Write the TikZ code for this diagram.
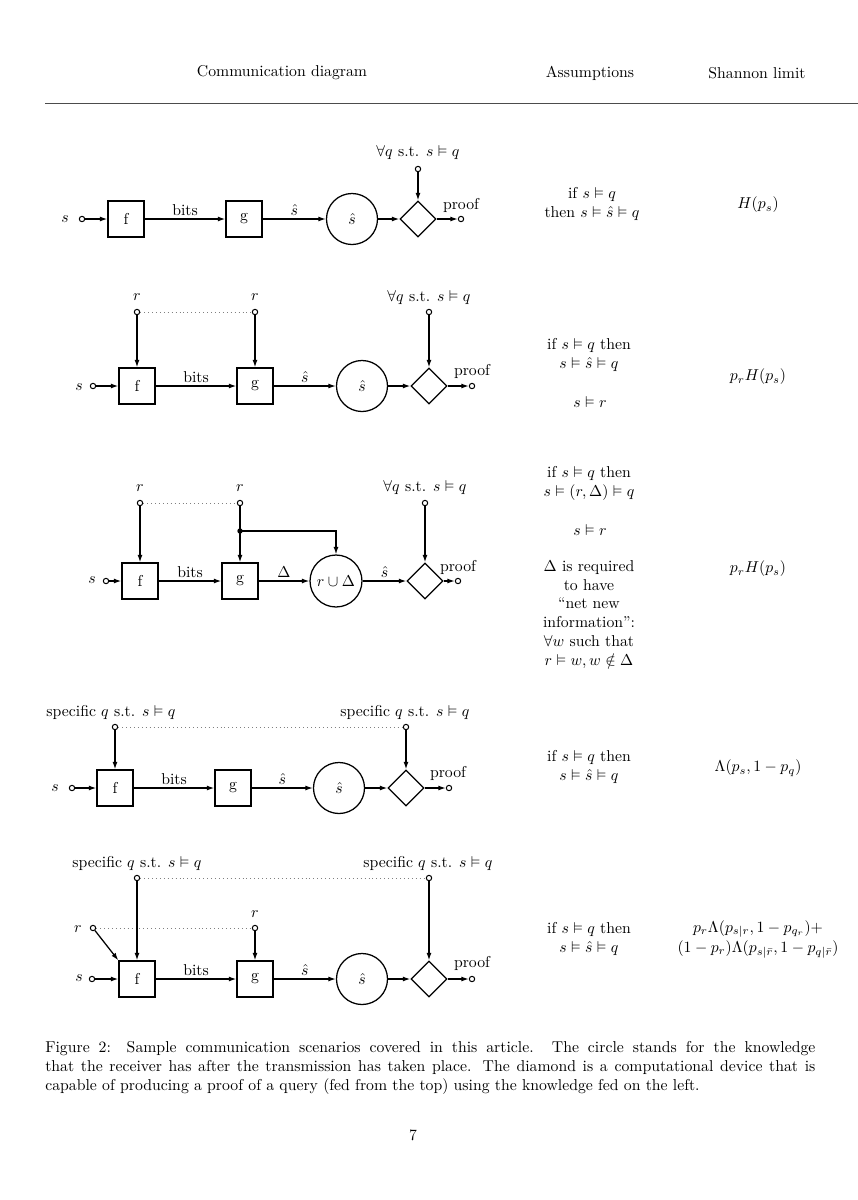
\documentclass[tikz,border=0pt]{standalone}
\usepackage{amssymb}
\usetikzlibrary{shapes.geometric,arrows.meta}
\begin{document}
\begin{tikzpicture}[x=0.635pt,y=-0.635pt,
  blk/.style={draw, line width=0.8pt, minimum size=22.9pt, inner sep=0pt},
  know/.style={draw, circle, line width=0.8pt, minimum size=32.4pt, inner sep=0pt},
  prover/.style={draw, diamond, line width=0.8pt, minimum width=22.9pt, minimum height=22.9pt, inner sep=0pt},
  port/.style={draw, circle, line width=0.65pt, minimum size=3.4pt, inner sep=0pt, fill=white},
  junction/.style={circle, fill, minimum size=3.4pt, inner sep=0pt},
  flow/.style={line width=0.8pt, -{Latex[length=4.8pt,width=3.2pt]}},
  link/.style={gray, dotted, line width=0.5pt},
  lbl/.style={above, inner sep=2pt},
  cell/.style={align=center, inner sep=0pt}
]
\fill[white] (0,0) rectangle (858,1200);
\useasboundingbox (0,0) rectangle (858,1200);

% header
\node (h1) at (282,73) {Communication diagram};
\node (h2) at (590,73) {Assumptions};
\node (h3) at (757,73) {Shannon limit};
\coordinate (ruleL) at (45,103);
\coordinate (ruleR) at (858,103);
\draw[line width=0.6pt, black!70] (ruleL) -- (ruleR);

% ---------------- row 1
\node[port] (s1) at (82,219) {};
\node (s1l) at (65,219) {$s$};
\node[blk] (f1) at (126,219) {f};
\node[blk] (g1) at (244,219) {g};
\node[know] (c1) at (352,219) {$\hat s$};
\node[prover] (d1) at (418,219) {};
\node[port] (o1) at (461,219) {};
\node (o1l) at (461,205) {proof};
\node[port] (q1) at (418,169) {};
\node (q1l) at (418,153) {$\forall q$ s.t. $s\vDash q$};
\draw[flow] (s1) -- (f1);
\draw[flow] (f1) -- node[lbl] {bits} (g1);
\draw[flow] (g1) -- node[lbl] {$\hat s$} (c1);
\draw[flow] (c1) -- (d1);
\draw[flow] (d1) -- (o1);
\draw[flow] (q1) -- (d1);
\node[cell] (a1) at (592,204) {if $s\vDash q$\\then $s\vDash\hat s\vDash q$};
\node (b1) at (758,205) {$H(p_s)$};

% ---------------- row 2
\node[port] (s2) at (93,386) {};
\node (s2l) at (79,387) {$s$};
\node[blk] (f2) at (137,386) {f};
\node[blk] (g2) at (255,386) {g};
\node[know] (c2) at (362,386) {$\hat s$};
\node[prover] (d2) at (429,386) {};
\node[port] (o2) at (472,386) {};
\node (o2l) at (472,371) {proof};
\node[port] (ra2) at (137,312) {};
\node (ra2l) at (137,297) {$r$};
\node[port] (rb2) at (255,312) {};
\node (rb2l) at (255,297) {$r$};
\node[port] (q2) at (429,312) {};
\node (q2l) at (429,298) {$\forall q$ s.t. $s\vDash q$};
\draw[link] (ra2) -- (rb2);
\draw[flow] (ra2) -- (f2);
\draw[flow] (rb2) -- (g2);
\draw[flow] (s2) -- (f2);
\draw[flow] (f2) -- node[lbl] {bits} (g2);
\draw[flow] (g2) -- node[lbl] {$\hat s$} (c2);
\draw[flow] (c2) -- (d2);
\draw[flow] (d2) -- (o2);
\draw[flow] (q2) -- (d2);
\node[cell] (a2) at (589,355) {if $s\vDash q$ then\\$s\vDash\hat s\vDash q$};
\node[cell] (a2b) at (590,402) {$s\vDash r$};
\node (b2) at (758,377) {$p_rH(p_s)$};

% ---------------- row 3
\node[port] (s3) at (106,581) {};
\node (s3l) at (92,580) {$s$};
\node[blk] (f3) at (140,581) {f};
\node[blk] (g3) at (240,581) {g};
\node[know, minimum size=33pt] (c3) at (336,581) {$r\cup\Delta$};
\node[prover] (d3) at (425,581) {};
\node[port] (o3) at (458,581) {};
\node (o3l) at (458,567) {proof};
\node[port] (ra3) at (140,503) {};
\node (ra3l) at (140,488) {$r$};
\node[port] (rb3) at (240,503) {};
\node (rb3l) at (240,488) {$r$};
\node[junction] (j3) at (240,531) {};
\node[port] (q3) at (425,503) {};
\node (q3l) at (425,488) {$\forall q$ s.t. $s\vDash q$};
\draw[link] (ra3) -- (rb3);
\draw[flow] (ra3) -- (f3);
\draw[flow] (rb3) -- (g3);
\draw[flow] (j3.center) -| (c3);
\draw[flow] (s3) -- (f3);
\draw[flow] (f3) -- node[lbl] {bits} (g3);
\draw[flow] (g3) -- node[lbl] {$\Delta$} (c3);
\draw[flow] (c3) -- node[lbl] {$\hat s$} (d3);
\draw[flow] (d3) -- (o3);
\draw[flow] (q3) -- (d3);
\node[cell] (a3) at (589,483) {if $s\vDash q$ then\\$s\vDash(r,\Delta)\vDash q$};
\node[cell] (a3b) at (590,530) {$s\vDash r$};
\node[cell] (a3c) at (589,614.5) {$\Delta$ is required\\to have\\``net new\\information'':\\$\forall w$ such that\\$r\vDash w, w\notin\Delta$};
\node (b3) at (758,569) {$p_rH(p_s)$};

% ---------------- row 4
\node[port] (s4) at (72,788) {};
\node (s4l) at (55,788) {$s$};
\node[blk] (f4) at (115,788) {f};
\node[blk] (g4) at (233,788) {g};
\node[know] (c4) at (339,788) {$\hat s$};
\node[prover] (d4) at (406,788) {};
\node[port] (o4) at (449,788) {};
\node (o4l) at (448,773) {proof};
\node[port] (qa4) at (115,727) {};
\node (qa4l) at (111,712) {specific $q$ s.t. $s\vDash q$};
\node[port] (qb4) at (406,727) {};
\node (qb4l) at (405,712) {specific $q$ s.t. $s\vDash q$};
\draw[link] (qa4) -- (qb4);
\draw[flow] (qa4) -- (f4);
\draw[flow] (qb4) -- (d4);
\draw[flow] (s4) -- (f4);
\draw[flow] (f4) -- node[lbl] {bits} (g4);
\draw[flow] (g4) -- node[lbl] {$\hat s$} (c4);
\draw[flow] (c4) -- (d4);
\draw[flow] (d4) -- (o4);
\node[cell] (a4) at (589,767) {if $s\vDash q$ then\\$s\vDash\hat s\vDash q$};
\node (b4) at (758,768) {$\Lambda(p_s,1-p_q)$};

% ---------------- row 5
\node[port] (s5) at (92,979) {};
\node (s5l) at (79,978) {$s$};
\node[blk] (f5) at (137,979) {f};
\node[blk] (g5) at (255,979) {g};
\node[know] (c5) at (362,979) {$\hat s$};
\node[prover] (d5) at (429,979) {};
\node[port] (o5) at (472,979) {};
\node (o5l) at (472,963) {proof};
\node[port] (qa5) at (137,878) {};
\node (qa5l) at (137,863) {specific $q$ s.t. $s\vDash q$};
\node[port] (qb5) at (429,878) {};
\node (qb5l) at (428,863) {specific $q$ s.t. $s\vDash q$};
\node[port] (ra5) at (93,928) {};
\node (ra5l) at (78,929) {$r$};
\node[port] (rb5) at (255,928) {};
\node (rb5l) at (255,914) {$r$};
\draw[link] (qa5) -- (qb5);
\draw[link] (ra5) -- (rb5);
\draw[flow] (qa5) -- (f5);
\draw[flow] (qb5) -- (d5);
\draw[flow] (ra5) -- (f5.north west);
\draw[flow] (rb5) -- (g5);
\draw[flow] (s5) -- (f5);
\draw[flow] (f5) -- node[lbl] {bits} (g5);
\draw[flow] (g5) -- node[lbl] {$\hat s$} (c5);
\draw[flow] (c5) -- (d5);
\draw[flow] (d5) -- (o5);
\node[cell] (a5) at (589,939) {if $s\vDash q$ then\\$s\vDash\hat s\vDash q$};
\node[cell] (b5) at (758,939) {$p_r\Lambda(p_{s|r},1-p_{q_r})+$\\[0.8pt]$(1-p_r)\Lambda(p_{s|\bar r},1-p_{q|\bar r})$};

% ---------------- caption
\node[anchor=base west, inner sep=0pt] (cap1) at (45,1052) {\makebox[489pt][s]{Figure 2:\quad Sample communication scenarios covered in this article. The circle stands for the knowledge}};
\node[anchor=base west, inner sep=0pt] (cap2) at (45,1071) {\makebox[489pt][s]{that the receiver has after the transmission has taken place. The diamond is a computational device that is}};
\node[anchor=base west, inner sep=0pt] (cap3) at (45,1090) {capable of producing a proof of a query (fed from the top) using the knowledge fed on the left.};
\node (pg) at (413,1135) {7};
\end{tikzpicture}
\end{document}
